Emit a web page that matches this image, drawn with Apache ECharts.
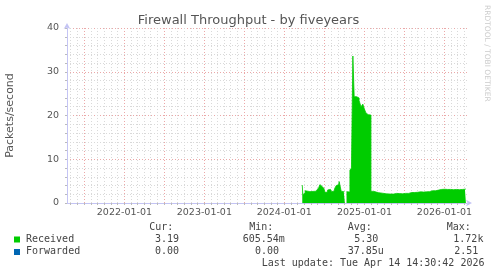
<!DOCTYPE html>
<html>
<head>
<meta charset="utf-8">
<script src="https://cdn.jsdelivr.net/npm/echarts@6/dist/echarts.min.js"></script>
<style>html,body{margin:0;padding:0;background:#fff}#c{width:497px;height:276px}</style>
</head>
<body>
<div id="c"></div>
<script>
// ---- data ----
const titleText = 'Firewall Throughput - by fiveyears';
const yAxisName = 'Packets/second';
const rangeStart = '2021-04-14';
const rangeEnd = '2026-04-14';
const yearLabels = ['2022-01-01', '2023-01-01', '2024-01-01', '2025-01-01', '2026-01-01'];
const yTicks = [0, 10, 20, 30, 40];

const receivedDates = ['2024-03-23','2024-03-28','2024-04-02','2024-04-08','2024-04-17','2024-04-27','2024-05-11','2024-05-25','2024-06-03','2024-06-09','2024-06-14','2024-06-19','2024-06-24','2024-06-30','2024-07-07','2024-07-14','2024-07-21','2024-07-30','2024-08-08','2024-08-15','2024-08-22','2024-08-29','2024-09-05','2024-09-10','2024-09-15','2024-09-18','2024-09-25','2024-10-02','2024-10-05','2024-10-17','2024-10-23','2024-10-30','2024-11-06','2024-11-12','2024-11-18','2024-11-26','2024-12-04','2024-12-11','2024-12-21','2024-12-28','2025-01-04','2025-01-11','2025-01-18','2025-01-27','2025-02-03','2025-02-10','2025-02-19','2025-02-28','2025-03-14','2025-04-01','2025-04-19','2025-05-07','2025-05-21','2025-06-04','2025-06-17','2025-07-01','2025-07-15','2025-07-29','2025-08-11','2025-08-25','2025-09-08','2025-09-21','2025-10-05','2025-10-18','2025-11-01','2025-11-15','2025-11-29','2025-12-12','2025-12-26','2026-01-09','2026-01-22','2026-02-05','2026-02-19','2026-03-04','2026-03-18','2026-03-31','2026-04-09'];
const receivedValues = [4.1,1.9,2.3,2.8,2.7,2.6,2.65,2.7,3.1,3.5,4.2,3.8,3.4,3.3,2.5,2.4,3.0,3.1,2.6,2.7,3.4,4.0,4.2,4.9,4.7,2.7,2.6,2.6,null,2.6,2.5,7.5,8.0,33.6,24.3,24.3,24.0,23.4,22.0,22.6,21.5,20.6,20.2,20.1,2.6,2.7,2.5,2.35,2.25,2.1,2.05,2.05,2.2,2.15,2.1,2.2,2.2,2.4,2.4,2.45,2.55,2.5,2.55,2.6,2.8,2.8,2.95,3.1,3.15,3.1,3.1,3.05,3.1,3.05,3.1,3.15,3.19];

const legendHeaders = ['Cur:', 'Min:', 'Avg:', 'Max:'];
const receivedStats = ['3.19', '605.54m', '5.30', '1.72k'];
const forwardedStats = ['0.00', '0.00', '37.85u', '2.51'];
const lastUpdate = 'Last update: Tue Apr 14 14:30:42 2026';
const watermark = 'RRDTOOL / TOBI OETIKER';

// ---- styles ----
const GREEN = '#00cc00', BLUE = '#0066b3';
const AXIS = '#c4c4f4', MINOR = '#d9d9d9', MAJOR = '#eba8a8';
const MONO = '"DejaVu Sans Mono", monospace';
const SANS = '"DejaVu Sans", sans-serif';

const ts = s => new Date(s + 'T00:00:00Z').getTime();
const receivedData = receivedDates.map((d, i) => [ts(d), receivedValues[i]]);

// monthly grid lines (red on Jan/Jul, gray otherwise)
const gridLines = [];
for (let y = 2021; y <= 2026; y++) {
  for (let m = 0; m < 12; m++) {
    const t = Date.UTC(y, m, 1);
    if (t <= ts(rangeStart) || t >= ts(rangeEnd)) continue;
    const major = (m === 0 || m === 6);
    gridLines.push({ xAxis: t, lineStyle: { color: major ? MAJOR : MINOR, type: [1, 2], width: 1 } });
  }
}

function fmtDate(v) {
  const d = new Date(v);
  const p = n => String(n).padStart(2, '0');
  return d.getUTCFullYear() + '-' + p(d.getUTCMonth() + 1) + '-' + p(d.getUTCDate());
}

const txt = (x, y, s, extra) => Object.assign({
  type: 'text', x: x, y: y,
  style: { text: s, fill: '#444', fontSize: 10, fontFamily: MONO, textVerticalAlign: 'middle' }
}, extra || {});

const headerX = [149.3, 249.3, 347.7, 446.7];
const recX = [155, 242.7, 354.3, 453.3];
const fwdX = [155, 255, 347.7, 454.3];

const graphics = [];
legendHeaders.forEach((h, i) => graphics.push(txt(headerX[i], 227.7, h)));
graphics.push({ type: 'rect', shape: { x: 14, y: 236.5, width: 6, height: 6 }, style: { fill: GREEN } });
graphics.push(txt(26, 239.3, 'Received'));
receivedStats.forEach((s, i) => graphics.push(txt(recX[i], 239.3, s)));
graphics.push({ type: 'rect', shape: { x: 14, y: 249, width: 6, height: 6 }, style: { fill: BLUE } });
graphics.push(txt(26, 251.7, 'Forwarded'));
forwardedStats.forEach((s, i) => graphics.push(txt(fwdX[i], 251.7, s)));
graphics.push(txt(261.7, 263.3, lastUpdate));
graphics.push({
  type: 'text', x: 487, y: 5, rotation: -Math.PI / 2,
  style: { text: watermark, fill: '#cccccc', fontSize: 7.5, fontFamily: SANS, textVerticalAlign: 'middle', textAlign: 'left' }
});

const chart = echarts.init(document.getElementById('c'), null, { renderer: 'canvas' });
chart.setOption({
  animation: false,
  backgroundColor: '#ffffff',
  title: {
    text: titleText, left: 'center', top: 9,
    textStyle: { fontFamily: SANS, fontSize: 13, fontWeight: 'normal', color: '#555' }
  },
  grid: { left: 67, right: 30, top: 28, bottom: 73, containLabel: false, outerBoundsMode: 'none' },
  xAxis: {
    type: 'value',
    min: ts(rangeStart), max: ts(rangeEnd),
    axisLine: { show: true, lineStyle: { color: AXIS, width: 1 }, symbol: ['none', 'arrow'], symbolSize: [5, 6], symbolOffset: [0, 5] },
    axisTick: { show: true, customValues: gridLines.map(g => g.xAxis), length: 2, inside: false, lineStyle: { color: '#bbb' } },
    axisLabel: {
      customValues: yearLabels.map(ts),
      formatter: v => fmtDate(v),
      color: '#555', fontFamily: SANS, fontSize: 9.5, margin: 5, hideOverlap: false
    },
    splitLine: { show: false }
  },
  yAxis: {
    type: 'value', min: yTicks[0], max: yTicks[yTicks.length - 1], interval: 10,
    name: yAxisName, nameLocation: 'middle', nameGap: 51, nameRotate: 90,
    nameTextStyle: { fontFamily: SANS, fontSize: 11, color: '#555' },
    axisLine: { show: true, lineStyle: { color: AXIS, width: 1 }, symbol: ['none', 'arrow'], symbolSize: [5, 6], symbolOffset: [0, 5] },
    axisTick: { show: true, length: 2, lineStyle: { color: '#bbb' } },
    minorTick: { show: true, splitNumber: 5, length: 2, lineStyle: { color: '#bbb' } },
    axisLabel: { color: '#555', fontFamily: SANS, fontSize: 9.5, margin: 8 },
    splitLine: { show: true, lineStyle: { color: MAJOR, type: [1, 2], width: 1 } },
    minorSplitLine: { show: true, lineStyle: { color: MINOR, type: [1, 2], width: 1 } }
  },
  series: [
    {
      name: 'grid', type: 'line', data: [], z: 1, silent: true,
      markLine: { silent: true, z: 1, symbol: ['none', 'none'], label: { show: false }, animation: false, data: gridLines }
    },
    {
      name: 'Received', type: 'line', data: receivedData, z: 10,
      step: 'middle', showSymbol: false, connectNulls: false,
      lineStyle: { color: GREEN, width: 0.8 },
      areaStyle: { color: GREEN, opacity: 1 },
      itemStyle: { color: GREEN }
    }
  ],
  graphic: graphics
});
</script>
</body>
</html>
